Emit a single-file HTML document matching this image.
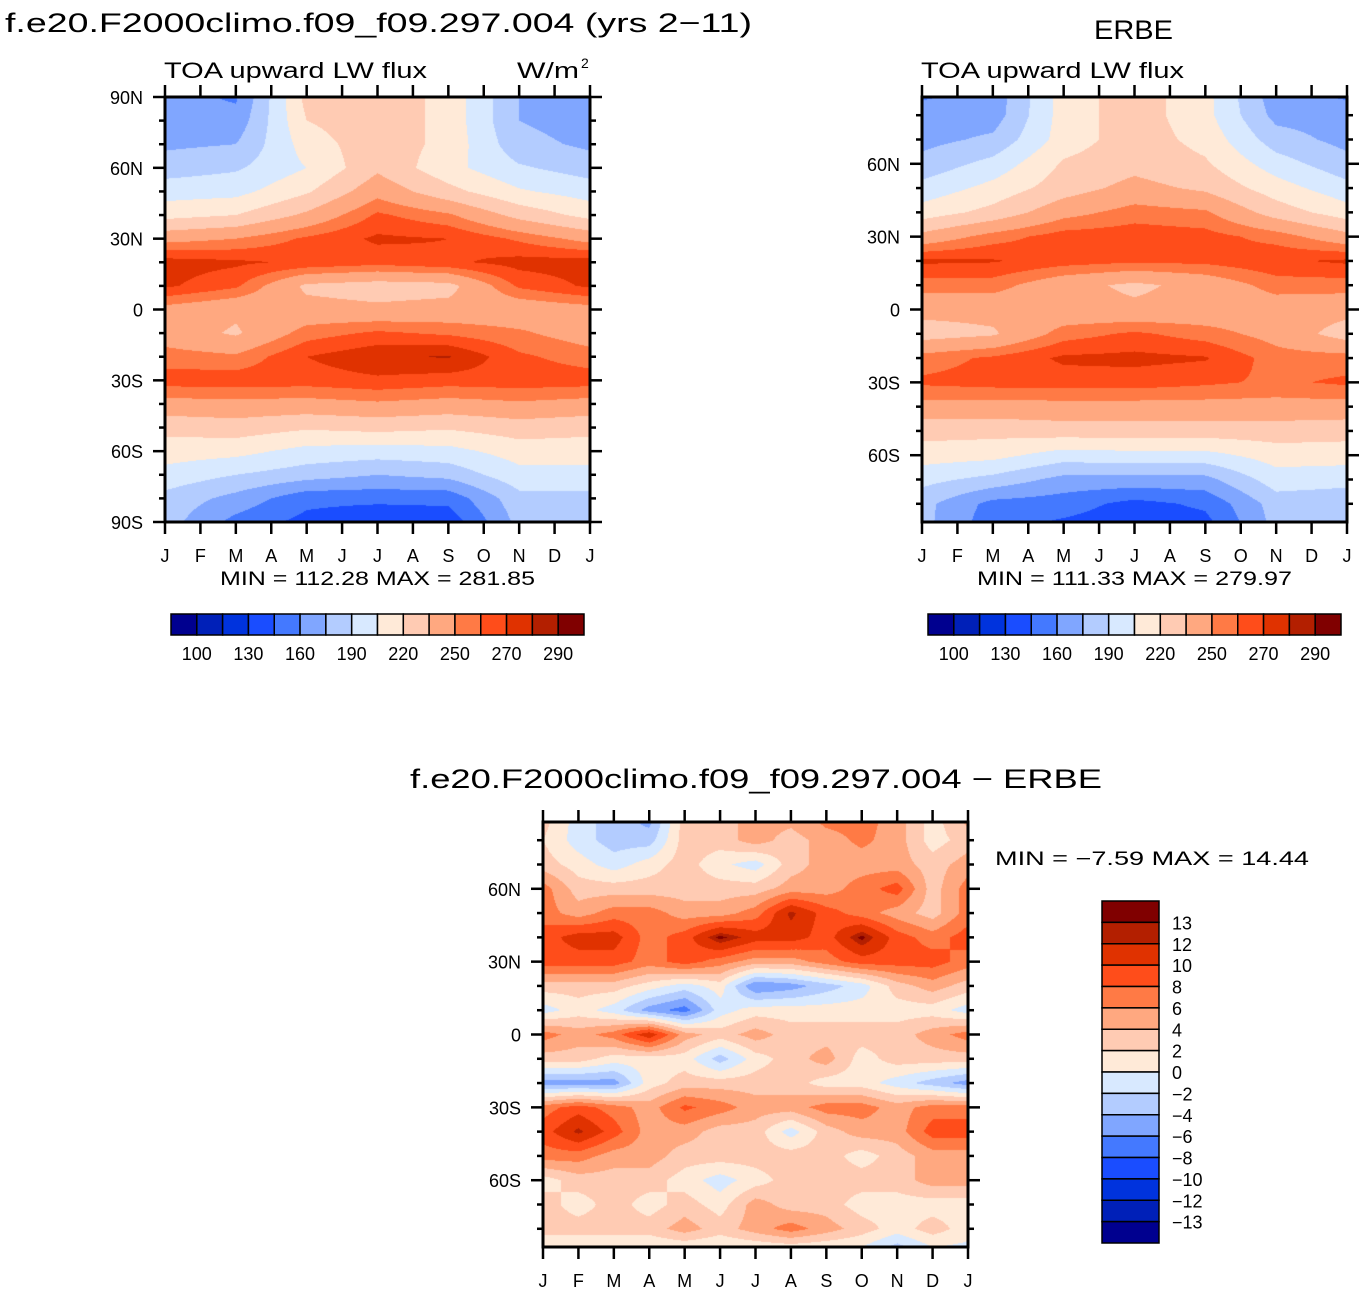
<!DOCTYPE html>
<html><head><meta charset="utf-8">
<style>
html,body{margin:0;padding:0;background:#fff;}
#root{position:relative;width:1366px;height:1294px;overflow:hidden;background:#fff;}
canvas{position:absolute;}
svg{position:absolute;left:0;top:0;}
text{font-family:"Liberation Sans",sans-serif;fill:#000;}
</style></head>
<body>
<div id="root">
<canvas id="c1" width="425" height="425" style="left:165px;top:97px"></canvas>
<canvas id="c2" width="425" height="425" style="left:922px;top:97px"></canvas>
<canvas id="c3" width="425" height="425" style="left:543px;top:822px"></canvas>
<svg id="ov" width="1366" height="1294"></svg>
</div>
<script>
// ---- shared data ----
const monthLabels = ['J','F','M','A','M','J','J','A','S','O','N','D','J'];
const gridLats = [90,80,70,60,50,40,30,20,10,0,-10,-20,-30,-40,-50,-60,-70,-80,-90];
const profileMonths = [0,2,4,6,8,10,12];
const fluxLevels = [100,115,130,145,160,175,190,205,220,235,250,260,270,280,290];
const fluxLabels = ['100','130','160','190','220','250','270','290'];
const diffLevels = [-13,-12,-10,-8,-6,-4,-2,0,2,4,6,8,10,12,13];
const diffLabels = ['13','12','10','8','6','4','2','0','\u22122','\u22124','\u22126','\u22128','\u221210','\u221212','\u221213'];
const palette = ['#00008f','#0020b8','#0033dd','#1a4dff','#4479ff','#80a6ff','#b3ccff','#d8e9ff','#ffead8','#ffcbb3','#ffa880','#ff7a45','#ff4d1a','#e03200','#b31f00','#800000'];

// ---- model (lat profiles 90N..90S) ----
const modelJan = [165,168,172,183,198,215,245,275,272,245,243,255,265,245,225,212,200,185,182];
const modelMar = [158,165,175,188,200,220,250,272,262,238,233,252,266,246,228,210,190,170,155];
const modelMay = [225,220,212,205,218,238,262,268,232,240,255,270,265,245,222,200,182,150,140];
const modelJul = [230,230,230,232,245,262,272,264,228,238,262,278,268,248,225,198,175,150,130];
const modelSep = [215,215,215,210,225,252,270,268,230,240,258,281,265,245,222,200,180,150,135];
const modelNov = [175,175,180,192,207,230,258,274,262,240,252,262,266,248,228,212,200,185,180];
const modelProfiles = [modelJan,modelMar,modelMay,modelJul,modelSep,modelNov,modelJan];

// ---- ERBE (lat profiles 90N..90S) ----
const erbeJan = [155,168,170,180,195,212,240,272,255,240,228,255,262,245,226,212,195,180,180];
const erbeMar = [165,167,178,195,210,225,255,271,255,240,233,262,264,245,225,210,185,155,150];
const erbeMay = [212,212,212,222,228,245,265,265,240,240,255,272,265,245,228,198,170,152,140];
const erbeJul = [228,228,228,230,240,255,266,262,232,238,262,273,265,245,228,200,170,140,135];
const erbeSep = [210,210,215,222,232,252,264,263,240,240,255,271,262,245,228,200,170,148,138];
const erbeNov = [165,170,182,197,212,228,256,268,255,242,245,255,258,245,228,212,198,182,180];
const erbeProfiles = [erbeJan,erbeMar,erbeMay,erbeJul,erbeSep,erbeNov,erbeJan];

// ---- difference (rows = lat 90N..90S, cols = J..J monthly) ----
const diffGrid = [
 [3,-1,-3,-5,3,3,5,5,7,7,5,1,5],
 [2,-1,-3,-3,3,3,5,3,5,6.5,5,1,3],
 [3,1,-1,1,3,0.5,-1,3,5,5,5,3,5],
 [7,3,3,3,3,3,3,5,5,7,9,3,7],
 [7,5,7,7,5,5,7,12.5,9,7,5,3,7],
 [9,11,11,7,9,13.5,11,11,9,13.5,9,7,9],
 [9,9,9,7,9,7,5,5,7,9,9,9,7],
 [3,3,3,1,-1,1,-6,-5,-3,-1,3,5,3],
 [-1,1,-1,-5,-7,-1,1,1,1,1,1,1,-1],
 [7,5,7,11.5,5,3,5,3,3,3,3,5,7],
 [3,3,1,1,1,-3,1,3,5,1,3,3,3],
 [-5,-5,-5,1,3,3,3,3,1,1,-1,-3,-5],
 [7,9,7,5,8.5,7,5,5,7,7,5,7,7],
 [9,12.5,9,5,5,3,3,-1,3,5,5,9,9],
 [7,7,5,5,3,3,3,3,3,1,3,5,5],
 [1,3,3,3,1,-1,1,3,3,3,3,5,5],
 [3,1,3,1,3,1,5,3,3,1,1,1,1],
 [3,3,3,3,5,3,5,7,5,3,1,3,1],
 [-1,-1,-1,-1,-1,-1,-1,-1,-1,-1,-4,-1,-1]
];

function hexRgb(h){return [parseInt(h.substr(1,2),16),parseInt(h.substr(3,2),16),parseInt(h.substr(5,2),16)];}
const palRgb = palette.map(hexRgb);
function classify(v,levels){let k=0;while(k<levels.length&&v>=levels[k])k++;return k;}
function latIndex(lat){let f=(90-lat)/10;return Math.max(0,Math.min(18,f));}
function sampleProfiles(profiles,m,lat){
  let ti=0;while(ti<profileMonths.length-2&&m>profileMonths[ti+1])ti++;
  const tf=(m-profileMonths[ti])/(profileMonths[ti+1]-profileMonths[ti]);
  const f=latIndex(lat);const li=Math.min(17,Math.floor(f));const lf=f-li;
  const a=profiles[ti],b=profiles[ti+1];
  const va=a[li]*(1-lf)+a[li+1]*lf, vb=b[li]*(1-lf)+b[li+1]*lf;
  return va*(1-tf)+vb*tf;
}
function sampleGrid(grid,m,lat){
  const ti=Math.min(11,Math.floor(m));const tf=m-ti;
  const f=latIndex(lat);const li=Math.min(17,Math.floor(f));const lf=f-li;
  const v00=grid[li][ti],v01=grid[li][ti+1],v10=grid[li+1][ti],v11=grid[li+1][ti+1];
  return (v00*(1-tf)+v01*tf)*(1-lf)+(v10*(1-tf)+v11*tf)*lf;
}
function drawField(id,latTop,latBot,sampler,levels){
  const cv=document.getElementById(id),ctx=cv.getContext('2d');
  const W=cv.width,H=cv.height,img=ctx.createImageData(W,H);
  for(let y=0;y<H;y++){const lat=latTop+(latBot-latTop)*(y+0.5)/H;
    for(let x=0;x<W;x++){const m=12*(x+0.5)/W;const c=palRgb[classify(sampler(m,lat),levels)];
      const p=(y*W+x)*4;img.data[p]=c[0];img.data[p+1]=c[1];img.data[p+2]=c[2];img.data[p+3]=255;}}
  ctx.putImageData(img,0,0);
}
drawField('c1',90,-90,(m,l)=>sampleProfiles(modelProfiles,m,l),fluxLevels);
drawField('c2',87.5,-87.5,(m,l)=>sampleProfiles(erbeProfiles,m,l),fluxLevels);
drawField('c3',87.5,-87.5,(m,l)=>sampleGrid(diffGrid,m,l),diffLevels);

// ---- overlay ----
const NS='http://www.w3.org/2000/svg';const ov=document.getElementById('ov');
function el(tag,attrs,parent){const e=document.createElementNS(NS,tag);for(const k in attrs)e.setAttribute(k,attrs[k]);(parent||ov).appendChild(e);return e;}
function txt(s,x,y,size,anchor,len){const t=el('text',{x:x,y:y,'font-size':size,'text-anchor':anchor||'start'});if(len){t.setAttribute('textLength',len);t.setAttribute('lengthAdjust','spacingAndGlyphs');}t.textContent=s;return t;}
function latLabel(l){return l===0?'0':Math.abs(l)+(l>0?'N':'S');}
function axes(name,px,py,latTop,latBot,labelAll){
  const g=el('g',{});
  
  
  const W=425,H=425;
  for(let m=0;m<=12;m++){const x=px+m*W/12;
    el('line',{x1:x,y1:py,x2:x,y2:py-12,stroke:'#000','stroke-width':2.5},g);
    el('line',{x1:x,y1:py+H,x2:x,y2:py+H+12,stroke:'#000','stroke-width':2.5},g);
    const t=txt(monthLabels[m],x,py+H+40,18,'middle');g.appendChild(t);
    
    
  }
  for(let lat=-90;lat<=90;lat+=10){if(lat>latTop+0.01||lat<latBot-0.01)continue;
    const y=py+(latTop-lat)/(latTop-latBot)*H;const major=lat%30===0;const L=major?12:6;
    el('line',{x1:px,y1:y,x2:px-L,y2:y,stroke:'#000','stroke-width':2.5},g);
    el('line',{x1:px+W,y1:y,x2:px+W+L,y2:y,stroke:'#000','stroke-width':2.5},g);
    if(major&&(labelAll||Math.abs(lat)<90)){const t=txt(latLabel(lat),px-22,y+7,18,'end');g.appendChild(t);
      
      }
  }
  el('rect',{x:px,y:py,width:W,height:H,fill:'none',stroke:'#000','stroke-width':3},g);
}
axes('model',165,97,90,-90,true);
axes('erbe',922,97,87.5,-87.5,false);
axes('diff',543,822,87.5,-87.5,false);

function hbar(name,x0,y0){
  const g=el('g',{});
  
  
  const w=413/16;
  for(let k=0;k<16;k++){const r=el('rect',{x:x0+k*w,y:y0,width:w,height:21,fill:palette[k],stroke:'#000','stroke-width':1.5},g);
    
    }
  for(let j=0;j<fluxLabels.length;j++){const t=txt(fluxLabels[j],x0+(2*j+1)*w,y0+46,18,'middle');g.appendChild(t);
    
    }
}
hbar('model-colorbar',171,614);
hbar('erbe-colorbar',928,614);
(function(){
  const g=el('g',{});
  
  
  const h=342/16;
  for(let k=0;k<16;k++){const r=el('rect',{x:1102,y:901+k*h,width:57,height:h,fill:palette[15-k],stroke:'#000','stroke-width':1.5},g);
    
    }
  for(let j=0;j<diffLabels.length;j++){const t=txt(diffLabels[j],1172,901+(j+1)*h+7,18,'start');g.appendChild(t);
    
    }
})();

let t;
t=txt('f.e20.F2000climo.f09_f09.297.004 (yrs 2\u221211)',5,32,27,'start',747);

t=txt('ERBE',1094,39,27,'start',79);

t=txt('TOA upward LW flux',164,78,22,'start',263);

t=txt('W/m',517,78,22,'start',62);

t=txt('2',581,68,14,'start');

t=txt('TOA upward LW flux',921,78,22,'start',263);

t=txt('MIN =  112.28  MAX =  281.85',220,585,19,'start',315);

t=txt('MIN =  111.33  MAX =  279.97',977,585,19,'start',315);

t=txt('f.e20.F2000climo.f09_f09.297.004  \u2212  ERBE',410,788,27,'start',692);

t=txt('MIN =    \u22127.59  MAX =    14.44',995,865,19,'start',314);

</script>
</body></html>
